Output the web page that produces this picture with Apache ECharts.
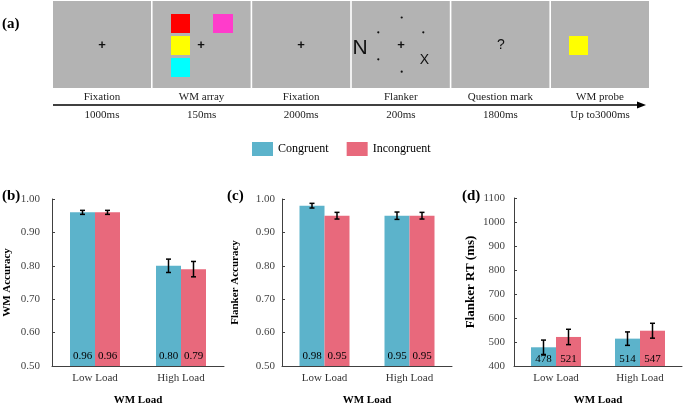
<!DOCTYPE html>
<html>
<head>
<meta charset="utf-8">
<script src="https://cdn.jsdelivr.net/npm/echarts@6/dist/echarts.min.js"></script>
<style>
html,body{margin:0;padding:0;background:#fff;}
#chart{width:685px;height:405px;}
</style>
</head>
<body>
<div id="chart"></div>
<script>
// ---------- data ----------
const categories = ['Low Load', 'High Load'];
const seriesNames = ['Congruent', 'Incongruent'];

const wmAccCong = [0.96, 0.80];
const wmAccIncong = [0.96, 0.79];
const wmAccCongErr = [0.006, 0.020];
const wmAccIncongErr = [0.006, 0.023];

const flAccCong = [0.98, 0.95];
const flAccIncong = [0.95, 0.95];
const flAccCongErr = [0.007, 0.011];
const flAccIncongErr = [0.010, 0.010];

const rtCong = [478, 514];
const rtIncong = [521, 547];
const rtCongErr = [30, 28];
const rtIncongErr = [32, 31];

const accTicks = { min: 0.5, max: 1.0, interval: 0.1 };
const rtTicks = { min: 400, max: 1100, interval: 100 };

const frameLabels = ['Fixation', 'WM array', 'Fixation', 'Flanker', 'Question mark', 'WM probe'];
const frameTimes = ['1000ms', '150ms', '2000ms', '200ms', '1800ms', 'Up to3000ms'];

// ---------- styles ----------
const SERIF = '"Liberation Serif", "Times New Roman", serif';
const SANS = '"Liberation Sans", Arial, sans-serif';
const TEAL = '#5cb3cb';
const PINK = '#e8697c';
const BAR_W = 25;

const chart = echarts.init(document.getElementById('chart'), null, { renderer: 'canvas' });

// ---------- panel (a) schematic ----------
const graphics = [];
const frameX = i => 53 + i * 99.6;
for (let i = 0; i < frameLabels.length; i++) {
  graphics.push({ type: 'rect', shape: { x: frameX(i), y: 1, width: 98, height: 87 }, style: { fill: '#b3b3b3' } });
  graphics.push({ type: 'text', style: { text: frameLabels[i], x: frameX(i) + 49, y: 97, align: 'center', verticalAlign: 'middle', font: '11px ' + SERIF, fill: '#222' } });
  graphics.push({ type: 'text', style: { text: frameTimes[i], x: frameX(i) + 49, y: 115, align: 'center', verticalAlign: 'middle', font: '11px ' + SERIF, fill: '#222' } });
}
function plus(x, y) {
  return { type: 'text', style: { text: '+', x: x, y: y, align: 'center', verticalAlign: 'middle', font: 'bold 13px ' + SANS, fill: '#111' } };
}
graphics.push(plus(102, 45));
graphics.push(plus(201, 45));
graphics.push(plus(301, 45));
graphics.push(plus(401, 45));
// WM array squares
graphics.push({ type: 'rect', shape: { x: 171, y: 14, width: 19, height: 19 }, style: { fill: '#ff0000' } });
graphics.push({ type: 'rect', shape: { x: 171, y: 36, width: 19, height: 19 }, style: { fill: '#ffff00' } });
graphics.push({ type: 'rect', shape: { x: 171, y: 58, width: 19, height: 19 }, style: { fill: '#00ffff' } });
graphics.push({ type: 'rect', shape: { x: 213, y: 14, width: 20, height: 19 }, style: { fill: '#ff3ccb' } });
// Flanker
graphics.push({ type: 'text', style: { text: 'N', x: 360, y: 48, align: 'center', verticalAlign: 'middle', font: '21px ' + SANS, fill: '#111' } });
graphics.push({ type: 'text', style: { text: 'X', x: 424.5, y: 60.5, align: 'center', verticalAlign: 'middle', font: '14px ' + SANS, fill: '#111' } });
[[401.7, 17.5], [378.3, 32.3], [423.3, 32.3], [378.3, 59.3], [401.7, 71.7]].forEach(p => {
  graphics.push({ type: 'circle', shape: { cx: p[0], cy: p[1], r: 1.1 }, style: { fill: '#111' } });
});
// Question mark
graphics.push({ type: 'text', style: { text: '?', x: 501, y: 45, align: 'center', verticalAlign: 'middle', font: '14px ' + SANS, fill: '#111' } });
// WM probe
graphics.push({ type: 'rect', shape: { x: 569, y: 36, width: 19, height: 19 }, style: { fill: '#ffff00' } });
// timeline arrow
graphics.push({ type: 'line', shape: { x1: 53, y1: 105, x2: 640, y2: 105 }, style: { stroke: '#000', lineWidth: 1.5 } });
graphics.push({ type: 'polygon', shape: { points: [[637, 101.5], [646, 105], [637, 108.5]] }, style: { fill: '#000' } });
// panel letters
graphics.push({ type: 'text', style: { text: '(a)', x: 2, y: 24, verticalAlign: 'middle', font: 'bold 15px ' + SERIF, fill: '#000' } });
graphics.push({ type: 'text', style: { text: '(b)', x: 2, y: 196, verticalAlign: 'middle', font: 'bold 15px ' + SERIF, fill: '#000' } });
graphics.push({ type: 'text', style: { text: '(c)', x: 227, y: 196, verticalAlign: 'middle', font: 'bold 15px ' + SERIF, fill: '#000' } });
graphics.push({ type: 'text', style: { text: '(d)', x: 462, y: 196, verticalAlign: 'middle', font: 'bold 15px ' + SERIF, fill: '#000' } });

// ---------- axes ----------
function xAxisCfg(gridIndex) {
  return {
    type: 'category', gridIndex: gridIndex, data: categories,
    axisLine: { lineStyle: { color: '#404040', width: 1 } },
    axisTick: { show: false },
    axisLabel: { margin: 7, color: '#333', fontFamily: SERIF, fontSize: 11 },
    name: 'WM Load', nameLocation: 'middle', nameGap: 29,
    nameTextStyle: { color: '#000', fontFamily: SERIF, fontSize: 11, fontWeight: 'bold' }
  };
}
function yAxisCfg(gridIndex, ticks, name, nameGap, labelMargin, decimals, nameSize) {
  return {
    type: 'value', gridIndex: gridIndex, min: ticks.min, max: ticks.max, interval: ticks.interval,
    axisLine: { show: true, lineStyle: { color: '#404040', width: 1 } },
    axisTick: { show: true, inside: true, length: 3, lineStyle: { color: '#404040' } },
    splitLine: { show: false },
    axisLabel: { margin: labelMargin, color: '#444', fontFamily: SERIF, fontSize: 11,
      formatter: v => Number(v).toFixed(decimals) },
    name: name, nameLocation: 'middle', nameRotate: 90, nameGap: nameGap,
    nameTextStyle: { color: '#000', fontFamily: SERIF, fontSize: nameSize, fontWeight: 'bold' }
  };
}

function barSeries(name, idx, values, color, decimals, labelDist) {
  return {
    type: 'bar', name: name, xAxisIndex: idx, yAxisIndex: idx, data: values,
    barWidth: BAR_W, barGap: '0%',
    itemStyle: { color: color },
    label: { show: true, position: 'insideBottom', distance: labelDist, color: '#000',
      fontFamily: SERIF, fontSize: 11, formatter: p => Number(p.value).toFixed(decimals) },
    emphasis: { disabled: true }, z: 2
  };
}
function errSeries(idx, values, errs, offset) {
  return {
    type: 'custom', xAxisIndex: idx, yAxisIndex: idx,
    data: values.map((v, i) => [i, v, errs[i]]),
    encode: { x: 0, y: 1 },
    renderItem: function (params, api) {
      const c = api.value(0), v = api.value(1), e = api.value(2);
      const top = api.coord([c, v + e]);
      const bot = api.coord([c, v - e]);
      const x = top[0] + offset;
      const st = { stroke: '#000', lineWidth: 1.5 };
      return {
        type: 'group', children: [
          { type: 'line', shape: { x1: x, y1: top[1], x2: x, y2: bot[1] }, style: st },
          { type: 'line', shape: { x1: x - 2.5, y1: top[1], x2: x + 2.5, y2: top[1] }, style: st },
          { type: 'line', shape: { x1: x - 2.5, y1: bot[1], x2: x + 2.5, y2: bot[1] }, style: st }
        ]
      };
    },
    z: 5, silent: true
  };
}

const gridBase = { containLabel: false, outerBoundsMode: 'none' };
const option = {
  animation: false,
  backgroundColor: '#fff',
  graphic: graphics,
  legend: {
    data: seriesNames, left: 247, top: 137, itemWidth: 21, itemHeight: 14, itemGap: 18,
    icon: 'rect', selectedMode: false,
    textStyle: { color: '#000', fontFamily: SERIF, fontSize: 12 }
  },
  grid: [
    Object.assign({ left: 52, top: 199, width: 172, height: 167 }, gridBase),
    Object.assign({ left: 282, top: 199, width: 170, height: 167 }, gridBase),
    Object.assign({ left: 514, top: 198, width: 168, height: 168 }, gridBase)
  ],
  xAxis: [xAxisCfg(0), xAxisCfg(1), xAxisCfg(2)],
  yAxis: [
    yAxisCfg(0, accTicks, 'WM Accuracy', 39, 12, 2, 11),
    yAxisCfg(1, accTicks, 'Flanker Accuracy', 41, 7, 2, 11),
    yAxisCfg(2, rtTicks, 'Flanker RT (ms)', 37, 9, 0, 13)
  ],
  series: [
    barSeries('Congruent', 0, wmAccCong, TEAL, 2, 4),
    barSeries('Incongruent', 0, wmAccIncong, PINK, 2, 4),
    errSeries(0, wmAccCong, wmAccCongErr, -BAR_W / 2),
    errSeries(0, wmAccIncong, wmAccIncongErr, BAR_W / 2),

    barSeries('Congruent', 1, flAccCong, TEAL, 2, 4),
    barSeries('Incongruent', 1, flAccIncong, PINK, 2, 4),
    errSeries(1, flAccCong, flAccCongErr, -BAR_W / 2),
    errSeries(1, flAccIncong, flAccIncongErr, BAR_W / 2),

    barSeries('Congruent', 2, rtCong, TEAL, 0, 1),
    barSeries('Incongruent', 2, rtIncong, PINK, 0, 1),
    errSeries(2, rtCong, rtCongErr, -BAR_W / 2),
    errSeries(2, rtIncong, rtIncongErr, BAR_W / 2)
  ]
};
chart.setOption(option);
</script>
</body>
</html>
